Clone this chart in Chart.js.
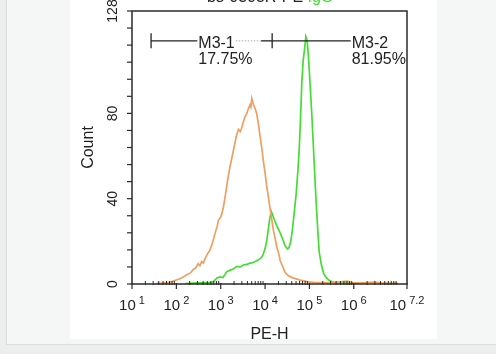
<!DOCTYPE html>
<html><head><meta charset="utf-8">
<script src="https://cdn.jsdelivr.net/npm/chart.js@4"></script>
<style>
html,body{margin:0;padding:0;width:496px;height:354px;overflow:hidden;background:#eceeee;}
#panel{position:absolute;left:6px;top:0;width:490px;height:344px;background:#f5f7f7;border-left:1px solid #dadddd;border-bottom:1px solid #dadddd;}
#white{position:absolute;left:70px;top:0;width:367px;height:339px;background:#fff;}
#wrap{position:absolute;left:0;top:0;width:496px;height:354px;}
</style></head><body>
<div id="panel"></div><div id="white"></div>
<div id="wrap"><canvas id="c" width="496" height="354"></canvas></div>
<script>
// ---- data (x in log10 units of PE-H) ----
const controlLog = [1.55,1.70,1.85,1.95,2.05,2.15,2.25,2.32,2.38,2.44,2.49,2.53,2.57,2.61,2.65,2.70,2.76,2.81,2.87,2.92,2.95,2.99,3.02,3.06,3.10,3.15,3.21,3.26,3.32,3.36,3.40,3.44,3.47,3.51,3.55,3.59,3.62,3.66,3.68,3.70,3.72,3.74,3.78,3.81,3.85,3.89,3.93,3.96,4.00,4.04,4.08,4.12,4.16,4.19,4.23,4.27,4.31,4.34,4.40,4.45,4.52,4.61,4.70,4.79,4.88,4.97,5.10,5.25,5.40,5.55,5.70,5.85,5.95,6.10,6.30,6.45,6.60,6.80,7.00];
const controlCount = [0.3,0.4,0.8,1.5,2.2,3.2,4.5,5.2,6.8,7.5,9.5,8.6,10.5,9.8,12,14,16,19,23.5,27,30,31,32.5,36,41,48,55,60,66,70,72.5,71.5,73,76,78.5,80,82,84,83,87,85.5,84,82,80,75,69,63,58,52,45.5,40,34.5,29,25,21,17,14,11,8,5.5,4,3,2.4,1.8,1.5,1.0,0.8,0.7,0.6,0.8,1.0,1.3,0.7,0.5,0.6,0.9,0.5,0.4,0.3];
const stainedLog = [2.20,2.40,2.60,2.75,2.83,2.91,2.98,3.05,3.10,3.14,3.21,3.28,3.36,3.44,3.52,3.59,3.66,3.72,3.78,3.84,3.90,3.95,4.00,4.04,4.07,4.10,4.14,4.17,4.21,4.27,4.33,4.38,4.45,4.50,4.54,4.58,4.62,4.66,4.70,4.74,4.77,4.80,4.83,4.86,4.89,4.92,4.95,4.98,5.02,5.06,5.10,5.14,5.18,5.22,5.27,5.32,5.38,5.45,5.55,5.70,5.90,6.10];
const stainedCount = [0.2,0.4,0.5,0.6,1.0,2.7,3.3,3.0,4.5,5.8,6.5,7.0,8.3,8.0,9.0,9.2,9.8,10.0,10.5,11.2,12.0,13.5,16.5,20.6,25,30,34,32.5,30,27,24.5,22,18,16.5,17,20,26,34,42,53,63,78,95,105,110,116,114,106,92,77,60,43,28,15,9,5,3,1.6,0.8,0.5,0.4,0.3];
const xTickExps = [1,2,3,4,5,6,7.2];
const xTickLabels = ['1','2','3','4','5','6','7.2'];
const yTickLabels = [0,40,80,128];
const gateNames = ['M3-1','M3-2'];
const gatePercents = ['17.75%','81.95%'];
const gateStart = [1.43,4.16];
const gateEnd = [4.16,7.2];
const gateLevel = 114;
const titleMain = 'bs-0305R-PE';
const titleTail = ' IgG';

const toPts = (xs, ys) => xs.map((x,i)=>({x:x,y:ys[i]}));
const FONT = '"Liberation Sans", Arial, Helvetica, sans-serif';

const decor = {
  id:'decor',
  afterDraw(chart){
    const ctx = chart.ctx, xs = chart.scales.x, ys = chart.scales.y;
    const {left:L,right:R,top:T,bottom:B} = chart.chartArea;
    ctx.save();
    // frame
    ctx.strokeStyle = '#2b2b2b'; ctx.lineWidth = 1.5;
    ctx.strokeRect(L,T,R-L,B-T);
    // y ticks
    ctx.lineWidth = 1.2;
    const yt = [];
    for (let v=0; v<128; v+=8) yt.push(v);
    yt.push(128);
    yt.forEach(v=>{ const p=ys.getPixelForValue(v); ctx.beginPath(); ctx.moveTo(L-5,p); ctx.lineTo(L,p); ctx.stroke(); });
    // x ticks
    xTickExps.forEach(e=>{ const p=xs.getPixelForValue(e); ctx.beginPath(); ctx.moveTo(p,B-1); ctx.lineTo(p,B+5); ctx.stroke(); });
    ctx.lineWidth = 1;
    for (let d=1; d<7.2; d++){
      for (let k=2;k<=9;k++){
        const e = d+Math.log10(k); if (e>7.2) break;
        const p = xs.getPixelForValue(e);
        ctx.beginPath(); ctx.moveTo(p,B-3); ctx.lineTo(p,B+1); ctx.stroke();
      }
    }
    // y labels (rotated)
    ctx.fillStyle = '#222';
    ctx.font = '14px '+FONT; ctx.textAlign='center'; ctx.textBaseline='alphabetic';
    yTickLabels.forEach(v=>{
      const p = ys.getPixelForValue(v);
      ctx.save(); ctx.translate(117,p); ctx.rotate(-Math.PI/2); ctx.fillText(String(v),0,0); ctx.restore();
    });
    ctx.font = '16px '+FONT;
    ctx.save(); ctx.translate(93,(T+B)/2); ctx.rotate(-Math.PI/2); ctx.fillText('Count',0,0); ctx.restore();
    // x labels 10^n
    xTickExps.forEach((e,i)=>{
      const p = xs.getPixelForValue(e);
      ctx.font = '15px '+FONT; const w1 = ctx.measureText('10').width;
      ctx.font = '11px '+FONT; const w2 = ctx.measureText(xTickLabels[i]).width;
      const gap = 3, tot = w1+gap+w2, x0 = p - tot/2;
      ctx.textAlign='left';
      ctx.font = '15px '+FONT; ctx.fillText('10',x0,310);
      ctx.font = '11px '+FONT; ctx.fillText(xTickLabels[i],x0+w1+gap,304);
    });
    ctx.textAlign='center'; ctx.font='16px '+FONT;
    ctx.fillText('PE-H',(L+R)/2,339);
    // title (mostly cut off at top)
    ctx.textAlign='left';
    ctx.fillText(titleMain,207,2);
    const tw = ctx.measureText(titleMain).width;
    ctx.fillStyle = '#44dd33'; ctx.fillText(titleTail,207+tw,2);
    // gates
    const gy = ys.getPixelForValue(gateLevel);
    const frac = [0.39,0.59];
    ctx.fillStyle='#222'; ctx.strokeStyle='#222'; ctx.lineWidth=1.3;
    ctx.font = '16px '+FONT; ctx.textBaseline='alphabetic';
    gateNames.forEach((name,i)=>{
      const x1 = xs.getPixelForValue(gateStart[i]), x2 = xs.getPixelForValue(gateEnd[i]);
      const tx = x1 + (x2-x1)*frac[i];
      const w = ctx.measureText(name).width;
      ctx.beginPath(); ctx.moveTo(x1,gy-7.5); ctx.lineTo(x1,gy+7.5); ctx.stroke();
      ctx.beginPath(); ctx.moveTo(x1,gy); ctx.lineTo(tx-1,gy); ctx.stroke();
      if (i===0){
        ctx.save(); ctx.strokeStyle='#aaa'; ctx.lineWidth=1; ctx.setLineDash([1.5,1.5]);
        ctx.beginPath(); ctx.moveTo(tx+w+1,gy); ctx.lineTo(x2-11,gy); ctx.stroke(); ctx.restore();
        ctx.beginPath(); ctx.moveTo(x2-11,gy); ctx.lineTo(x2,gy); ctx.stroke();
      }
      ctx.fillText(name,tx,gy+7);
      ctx.fillText(gatePercents[i],tx,gy+23);
    });
    ctx.restore();
  }
};

new Chart(document.getElementById('c'),{
  type:'line',
  data:{datasets:[
    {label:'control',data:toPts(controlLog,controlCount),borderColor:'#ef9f5f',borderWidth:1.7,pointRadius:0,tension:0,fill:false},
    {label:'stained',data:toPts(stainedLog,stainedCount),borderColor:'#44dd33',borderWidth:1.7,pointRadius:0,tension:0,fill:false}
  ]},
  options:{
    responsive:false, animation:false, devicePixelRatio:1,
    layout:{padding:{left:132,right:89,top:11,bottom:70}},
    plugins:{legend:{display:false},tooltip:{enabled:false}},
    scales:{
      x:{type:'linear',min:1,max:7.2,display:false},
      y:{type:'linear',min:0,max:128,display:false}
    }
  },
  plugins:[decor]
});
</script>
</body></html>
